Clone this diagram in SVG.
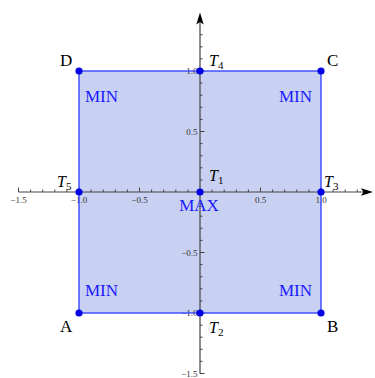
<svg xmlns="http://www.w3.org/2000/svg" width="375" height="378" viewBox="0 0 375 378">
<style>
.ax{stroke:#444;stroke-width:1.2;fill:none}
.tk{stroke:#444;stroke-width:1;fill:none}
.tl{font-family:"Liberation Serif",serif;font-size:9px;fill:#333}
.lb{font-family:"Liberation Serif",serif;font-size:17px;fill:#000}
.it{font-family:"Liberation Serif",serif;font-size:16px;font-style:italic;fill:#000}
.sub{font-size:11px;font-style:normal}
.rg{font-family:"Liberation Serif",serif;font-size:17px;fill:#1a1aff}
.pt{fill:#0000e6}
</style>
<rect x="0" y="0" width="375" height="378" fill="#fff"/>
<rect id="region" x="79" y="71" width="242" height="242" fill="#c9d1f2"/>
<g id="axes">
<path class="ax" d="M18.5 192H366M200 373.5V22"/>
<path class="tk" d="M18.5 192v-4.5M30.6 192v-2.5M42.7 192v-2.5M54.8 192v-2.5M66.9 192v-2.5M79 192v-4.5M91.1 192v-2.5M103.2 192v-2.5M115.3 192v-2.5M127.4 192v-2.5M139.5 192v-4.5M151.6 192v-2.5M163.7 192v-2.5M175.8 192v-2.5M187.9 192v-2.5M212.1 192v-2.5M224.2 192v-2.5M236.3 192v-2.5M248.4 192v-2.5M260.5 192v-4.5M272.6 192v-2.5M284.7 192v-2.5M296.8 192v-2.5M308.9 192v-2.5M321 192v-4.5M333.1 192v-2.5M345.2 192v-2.5M357.3 192v-2.5"/>
<path class="tk" d="M200 373.5h4.5M200 361.4h2.5M200 349.3h2.5M200 337.2h2.5M200 325.1h2.5M200 313h4.5M200 300.9h2.5M200 288.8h2.5M200 276.7h2.5M200 264.6h2.5M200 252.5h4.5M200 240.4h2.5M200 228.3h2.5M200 216.2h2.5M200 204.1h2.5M200 179.9h2.5M200 167.8h2.5M200 155.7h2.5M200 143.6h2.5M200 131.5h4.5M200 119.4h2.5M200 107.3h2.5M200 95.2h2.5M200 83.1h2.5M200 71h4.5M200 58.9h2.5M200 46.8h2.5M200 34.7h2.5"/>
<path d="M373 192L361 188.3L363.5 192L361 195.7Z" fill="#000"/>
<path d="M200 12.5L196.3 24.5L200 22L203.7 24.5Z" fill="#000"/>
<g class="tl" text-anchor="middle">
<text x="18.5" y="203">−1.5</text>
<text x="79" y="203">−1.0</text>
<text x="139.5" y="203">−0.5</text>
<text x="260.5" y="203">0.5</text>
<text x="321" y="203">1.0</text>
</g>
<g class="tl" text-anchor="end">
<text x="197.5" y="74">1.0</text>
<text x="197.5" y="134.5">0.5</text>
<text x="197.5" y="255.5">−0.5</text>
<text x="197.5" y="316">−1.0</text>
<text x="197.5" y="376.5">−1.5</text>
</g>
</g>
<g id="connectors">
<rect x="79" y="71" width="242" height="242" fill="none" stroke="#2a3cff" stroke-width="1.3"/>
</g>
<g id="A"><circle class="pt" cx="79" cy="313" r="3.6"/><text class="lb" x="60" y="332">A</text></g>
<g id="B"><circle class="pt" cx="321" cy="313" r="3.6"/><text class="lb" x="327" y="332">B</text></g>
<g id="C"><circle class="pt" cx="321" cy="71" r="3.6"/><text class="lb" x="327" y="66">C</text></g>
<g id="D"><circle class="pt" cx="79" cy="71" r="3.6"/><text class="lb" x="60" y="66">D</text></g>
<g id="T1"><circle class="pt" cx="200" cy="192" r="3.6"/><text class="it" x="209" y="181">T<tspan class="sub" dy="3">1</tspan></text><text class="rg" x="199" y="211" text-anchor="middle">MAX</text></g>
<g id="T2"><circle class="pt" cx="200" cy="313" r="3.6"/><text class="it" x="209" y="333">T<tspan class="sub" dy="3">2</tspan></text></g>
<g id="T3"><circle class="pt" cx="321" cy="192" r="3.6"/><text class="it" x="324" y="187">T<tspan class="sub" dy="3">3</tspan></text></g>
<g id="T4"><circle class="pt" cx="200" cy="71" r="3.6"/><text class="it" x="209" y="66">T<tspan class="sub" dy="3">4</tspan></text></g>
<g id="T5"><circle class="pt" cx="79" cy="192" r="3.6"/><text class="it" x="57" y="187">T<tspan class="sub" dy="3">5</tspan></text></g>
<g id="labels" class="rg">
<text x="85" y="102">MIN</text>
<text x="279" y="102">MIN</text>
<text x="85" y="296">MIN</text>
<text x="279" y="296">MIN</text>
</g>
</svg>
